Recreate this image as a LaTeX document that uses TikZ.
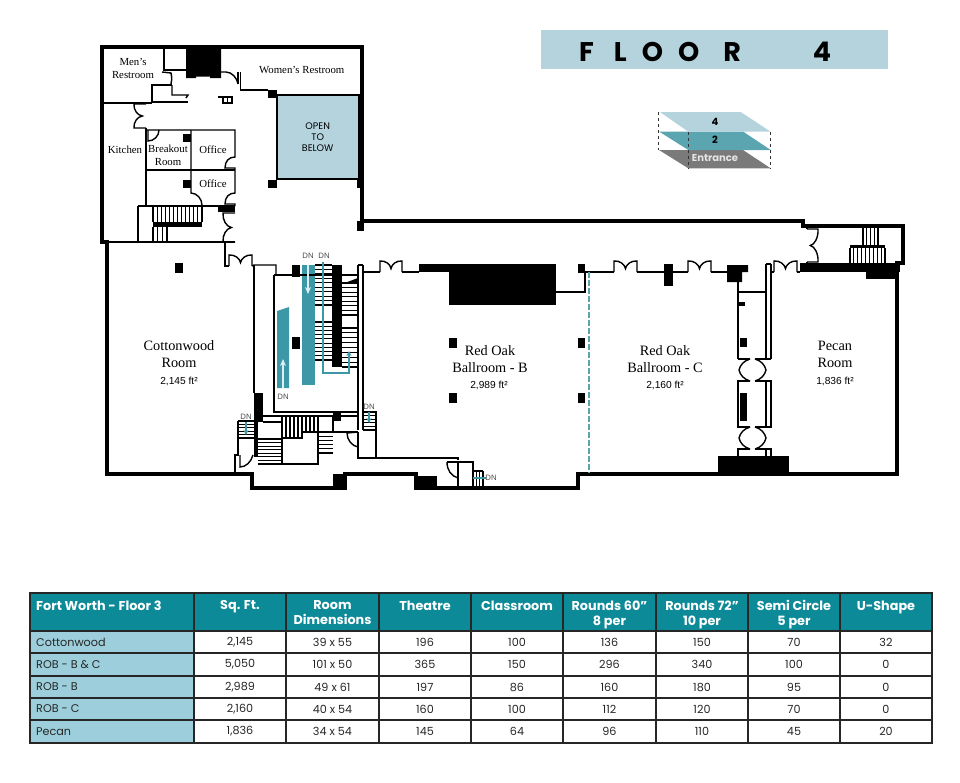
\documentclass[tikz,border=0pt]{standalone}
\usepackage{fontspec}
\usetikzlibrary{arrows.meta}
\setmainfont{Liberation Serif}
\newfontfamily\arialf{Liberation Sans}
\newfontfamily\futf{Poppins}
\definecolor{skyband}{HTML}{B5D3DD}
\definecolor{tealhead}{HTML}{0D8A98}
\definecolor{tealcol}{HTML}{9CCFDB}
\definecolor{tealmid}{HTML}{5BA5B1}
\definecolor{stairteal}{HTML}{3C98A6}
\definecolor{entgrey}{HTML}{7A7A7A}
\definecolor{arrowwhite}{HTML}{DCEFF2}
\newcommand\htreads[5]{\foreach \t in {0,...,#5}{\pgfmathsetmacro\yy{#3+(#4-#3)*\t/#5}\draw[tread] (#1,\yy)--(#2,\yy);}}
\newcommand\vtreads[5]{\foreach \t in {0,...,#5}{\pgfmathsetmacro\xx{#1+(#2-#1)*\t/#5}\draw[tread] (\xx,#3)--(\xx,#4);}}
\tikzset{
  wl/.style={line width=1.4pt,line cap=square,line join=miter},
  thick wall/.style={line width=3.6pt,line join=miter},
  tread/.style={line width=1.1pt},
  solid black/.style={fill=black,draw=none},
  room/.style={font=\fontsize{14.3}{17}\selectfont,align=center,inner sep=0pt},
  small room/.style={font=\fontsize{10.8}{12.5}\selectfont,align=center,inner sep=0pt},
  area/.style={font=\arialf\fontsize{10.2}{11}\selectfont,inner sep=0pt},
  dn/.style={font=\arialf\fontsize{7.8}{8}\selectfont,text=black!70,inner sep=0pt},
  cell/.style={font=\futf\fontsize{11.2}{14}\selectfont,text=black!85,inner sep=0pt},
  firstcell/.style={cell,anchor=west},
  head/.style={font=\futf\bfseries\fontsize{12.8}{15}\selectfont,text=white,inner sep=0pt,align=center,anchor=north},
  stacklabel/.style={font=\futf\bfseries\fontsize{10}{11}\selectfont,inner sep=0pt},
  tealline/.style={draw=stairteal,line width=1.2pt},
  whitearrow/.style={draw=arrowwhite,line width=1.5pt,-{Stealth[length=7pt,width=6pt]}},
  tealarrow/.style={draw=stairteal,line width=1.2pt,-{Stealth[length=5pt,width=5pt]}},
  ddoor/.pic={\draw[wl] (-1,0)--(-1,-1) .. controls (-.5,-1.05) and (-.05,-.7) .. (0,-.3) .. controls (.05,-.7) and (.5,-1.05) .. (1,-1)--(1,0);},
  ddoorb/.pic={\draw[wl] (-1,0) .. controls (-.85,-.55) and (-.45,-.9) .. (0,-1) .. controls (.45,-.9) and (.85,-.55) .. (1,0);}
}
\begin{document}
\begin{tikzpicture}[x=1pt,y=-1pt]
\useasboundingbox (0,0) rectangle (960,782);
% title band
\fill[skyband] (541,30) rectangle (888,69);
\node[inner sep=0pt,anchor=west,font=\futf\bfseries\fontsize{27}{30}\selectfont] (title) at (579,52) {\spaceskip=15pt F\hspace{5pt} L O O\hspace{9pt} R\hspace{72pt}4};
% level stack
\fill[entgrey] (659,150)--(743,150)--(770.7,168.3)--(688.3,168.3)--cycle;
\fill[tealmid] (659,131.5)--(743,131.5)--(770.7,150)--(688.3,150)--cycle;
\fill[skyband] (660,112)--(740.7,112)--(770.7,131.7)--(688.3,131.7)--cycle;
\draw[dashed,line width=.7pt,black!80] (658.7,112)--(658.7,149.5);
\draw[dashed,line width=.7pt,black!80] (688.3,132)--(688.3,168.3);
\draw[dashed,line width=.7pt,black!80] (770.7,132)--(770.7,168.3);
\node[stacklabel] (lvlf) at (715,122) {4};
\node[stacklabel] (lvls) at (715,140) {2};
\node[stacklabel,text=white!90!black] (lvle) at (715,158) {Entrance};
% open to below
\draw[wl,fill=skyband] (277,95) rectangle (359,179);
% teal stair strips
\fill[stairteal] (302,265) rectangle (315,385);
\fill[stairteal] (277,311)--(289,307)--(289,388)--(277,388)--cycle;
% blacks
\fill[solid black] (186,49)--(221,49)--(221,78)--(210,78)--(210,76.5)--(196,76.5)--(196,78)--(186,78)--cycle;
\fill[solid black] (268,90) rectangle (277,98);
\fill[solid black] (268,180) rectangle (277,188);
\fill[solid black] (357,179) rectangle (361,188);
\fill[solid black] (357,221) rectangle (364,231);
\fill[solid black] (183,134) rectangle (191,142);
\fill[solid black] (183,180) rectangle (191,188);
\fill[solid black] (218,206) rectangle (235,212);
\fill[solid black] (153,222) rectangle (202,227);
\fill[solid black] (175,263) rectangle (183,273);
\fill[solid black] (292,265) rectangle (300,277);
\fill[solid black] (292,337) rectangle (300,349);
\fill[solid black] (332,265) rectangle (342,367);
\fill[solid black] (342,284)--(358,278)--(358,283)--cycle;
\fill[solid black] (254,393) rectangle (263,422);
\fill[solid black] (254,422) rectangle (258,457);
\fill[solid black] (333,412) rectangle (341,421);
\fill[solid black] (333,474) rectangle (345,490);
\fill[solid black] (416,476) rectangle (437,489);
\fill[solid black] (419,264) rectangle (449,272);
\fill[solid black] (449,264) rectangle (556,305);
\fill[solid black] (578,264) rectangle (585,273);
\fill[solid black] (664,264) rectangle (673,286);
\fill[solid black] (727,265)--(748,265)--(748,272)--(742,272)--(742,282)--(727,282)--cycle;
\fill[solid black] (738,302) rectangle (745,306);
\fill[solid black] (740,338) rectangle (747,347);
\fill[solid black] (740,393) rectangle (747,421);
\fill[solid black] (718,456) rectangle (789,473);
\fill[solid black] (800,263) rectangle (900,272);
\fill[solid black] (866,272) rectangle (897,279);
\fill[solid black] (850,245) rectangle (885,248);
\fill[solid black] (449,338) rectangle (457,348);
\fill[solid black] (578,338) rectangle (585,348);
\fill[solid black] (449,393) rectangle (457,403);
\fill[solid black] (578,393) rectangle (585,403);
% outer walls
\draw[thick wall] (102,242)--(102,47)--(362,47)--(362,221)--(803,221)--(803,226)--(903,226)--(903,263)--(897,263)--(897,474)--(578,474)--(578,488)--(437,488)--(416,488)--(416,474)--(345,474)--(345,488)--(252,488)--(252,474)--(107,474)--(107,242)--cycle;
% upper-left thin walls
\draw[wl] (102,103)--(152,103);
\draw[wl] (164,49)--(164,70)--(186,70);
\draw[wl] (162,72)--(171,73) .. controls (172,78) and (172,81) .. (171,84);
\draw[wl] (172,85)--(152,85)--(152,102);
\draw[wl] (172,85)--(172,95)--(188,95)--(186,98);
\draw[wl] (152,102)--(188,102);
\draw[wl] (221,72)--(226,72) .. controls (232,72) and (237,78) .. (238,84);
\draw[wl] (238,72)--(238,84);
\draw[wl] (240.7,72)--(240.7,90)--(268,90);
\draw[wl] (218,97)--(232,97);
\draw[wl] (223,97) rectangle (232,103);
\draw[wl] (227.5,97)--(227.5,103);
\pic[shift={(146,116)},rotate=90,xscale=12,yscale=12]{ddoor};
\draw[wl] (146,128)--(146,206);
\draw[wl] (146,130)--(235,130)--(235,157) .. controls (229,157) and (225,161) .. (225,168)--(235,168)--(235,193) .. controls (229,193) and (225,197) .. (225,204)--(235,204)--(235,206);
\draw[wl] (148,130)--(148,141) .. controls (154,141) and (159,136) .. (159,130);
\draw[wl] (191,130)--(191,193) .. controls (197,193) and (202,199) .. (202,205);
\draw[wl] (146,170)--(235,170);
\draw[wl] (138,206)--(235,206);
\draw[wl] (138,206)--(138,243);
\draw[wl] (102,242)--(235,242);
\pic[shift={(235,227.5)},rotate=90,xscale=14.5,yscale=12]{ddoor};
\vtreads{153}{202}{207}{222}{12}
\vtreads{153}{167}{227}{242}{3}
% corridor to ballrooms
\draw[wl] (225,243)--(225,266)--(229,266);
\pic[shift={(240.5,266)},xscale=11.5,yscale=11]{ddoor};
\draw[wl] (252,266)--(254,265)--(276,265)--(276,275);
\draw[wl] (254,265)--(254,393);
\draw[wl] (274,275)--(358,275);
\draw[wl] (274,275)--(274,412)--(358,412);
\draw[wl] (358,265)--(363,265);
\draw[wl] (358,265)--(358,430);
\draw[wl] (363,265)--(363,430);
\draw[wl] (363,272)--(380,272);
\pic[shift={(391,272)},xscale=11,yscale=11]{ddoor};
\draw[wl] (402,272)--(419,272);
% central stairs
\htreads{315}{332}{265}{305}{9}
\htreads{315}{332}{322}{360}{9}
\htreads{342}{358}{283}{315}{7}
\htreads{342}{358}{328}{367}{8}
\draw[tealline] (323,262)--(323,373)--(349,373)--(349,360);
\draw[tealarrow] (349,362)--(349,351);
\draw[whitearrow] (308,265)--(308,294);
\draw[whitearrow] (283,388)--(283,359);
\node[dn] (dna) at (308,256) {DN};
\node[dn] (dnb) at (324,256) {DN};
\node[dn] (dnc) at (283,397) {DN};
% lower stair block
\draw[wl] (263,416)--(358,416);
\draw[wl] (263,422)--(282,422);
\vtreads{282}{318}{417}{438}{9}
\draw[wl,fill=white] (282,438)--(302,438)--(302,432)--(318,432)--(318,464)--(282,464)--cycle;
\htreads{258}{282}{439}{464}{7}
\draw[wl] (258,464)--(282,464);
\htreads{318}{333}{432}{453}{5}
\draw[wl] (333,416)--(333,432)--(318,432);
\draw[wl] (333,432)--(358,432);
\draw[wl] (358,432)--(358,458)--(458,458)--(458,460);
\draw[wl] (358,432)--(347,433) .. controls (347,440) and (352,446) .. (358,447);
% left small stair
\htreads{238}{254}{421}{438}{5}
\draw[wl] (238,421)--(238,455)--(235,455)--(235,473);
\draw[wl] (240,455)--(240,467) .. controls (246,467) and (251,462) .. (253,455);
\draw[tealarrow] (246,422)--(246,435);
\node[dn] (dnd) at (246,417) {DN};
% right small stair
\draw[wl] (363,412)--(376,412)--(376,458);
\htreads{363}{376}{412}{430}{5}
\draw[tealarrow] (369,412)--(369,423);
\node[dn] (dne) at (369,407) {DN};
% bottom small rooms
\draw[wl] (447,462)--(473,462)--(473,487);
\draw[wl] (458,462)--(458,487);
\draw[wl] (447,462) .. controls (447,470) and (451,476) .. (458,478);
\vtreads{473}{483}{471}{487}{3}
\draw[tread] (473,471)--(483,471);
\draw[tealline] (473,478)--(486,478);
\node[dn] (dnf) at (491,478) {DN};
% ballroom top wall
\draw[wl] (556,292)--(585,292)--(585,272)--(614,272);
\pic[shift={(625.5,272)},xscale=11.5,yscale=11]{ddoor};
\draw[wl] (637,272)--(664,272);
\draw[wl] (673,272)--(688,272);
\pic[shift={(699.5,272)},xscale=11.5,yscale=11]{ddoor};
\draw[wl] (711,272)--(727,272);
\draw[dashed,dash pattern=on 6pt off 2pt,tealmid,line width=1.2pt] (589,272)--(589,473);
% service corridor right
\draw[wl] (738,282)--(738,359);
\draw[wl] (738,292)--(766,292);
\draw[wl] (766,264)--(771,264);
\draw[wl] (766,264)--(766,359);
\draw[wl] (771,264)--(771,359);
\draw[wl] (738,359)--(750,359);
\draw[wl] (755,359)--(771,359);
\pic[shift={(750,370)},rotate=90,xscale=11,yscale=11]{ddoorb};
\pic[shift={(755,370)},rotate=-90,xscale=11,yscale=11]{ddoorb};
\draw[wl] (750,381)--(738,381)--(738,427)--(750,427);
\draw[wl] (755,381)--(771,381)--(771,427)--(755,427);
\draw[wl] (766,381)--(766,427);
\pic[shift={(750,438)},rotate=90,xscale=11,yscale=11]{ddoorb};
\pic[shift={(755,438)},rotate=-90,xscale=11,yscale=11]{ddoorb};
\draw[wl] (750,449)--(738,449)--(738,456);
\draw[wl] (755,449)--(771,449)--(771,456);
\draw[wl] (766,449)--(766,456);
\draw[wl] (771,272)--(774,272);
\pic[shift={(785.5,272)},xscale=11.5,yscale=11]{ddoor};
\draw[wl] (797,272)--(800,272);
% NE door and stair
\pic[shift={(807,245.5)},rotate=-90,xscale=16.5,yscale=11]{ddoor};
\draw[wl] (807,226)--(807,229);
\draw[wl] (807,262)--(807,263);
\vtreads{850}{885}{248}{263}{9}
\vtreads{863}{878}{228}{245}{4}
% room labels
\node[small room] (mens) at (133,68.5) {Men's\\Restroom};
\node[small room] (womens) at (301.7,70) {Women's Restroom};
\node[inner sep=0pt,align=center,font=\futf\fontsize{9.5}{11}\selectfont] (open) at (317.7,137) {OPEN\\TO\\BELOW};
\node[small room] (kitchen) at (125,150) {Kitchen};
\node[small room] (breakout) at (168,155.5) {Breakout\\Room};
\node[small room] (officea) at (213,150) {Office};
\node[small room] (officeb) at (213,184) {Office};
\node[room] (cotton) at (179,354.5) {Cottonwood\\Room};
\node[area] (cottona) at (179,381) {2,145 ft²};
\node[room] (oakb) at (490,359.5) {Red Oak\\Ballroom - B};
\node[area] (oakba) at (489,385) {2,989 ft²};
\node[room] (oakc) at (665,359.5) {Red Oak\\Ballroom - C};
\node[area] (oakca) at (665,385) {2,160 ft²};
\node[room] (pecan) at (835,354.5) {Pecan\\Room};
\node[area] (pecana) at (835,381) {1,836 ft²};
% table
\fill[tealhead] (30,593) rectangle (932,631);
\fill[tealcol] (30,631) rectangle (194,743);
\foreach \yl in {631,653,676,698,720}{\draw[line width=1.3pt,black!85] (30,\yl)--(932,\yl);}
\foreach \xl in {194,286,379,471,563,656,748,840}{\draw[line width=1.3pt,black!85] (\xl,593)--(\xl,743);}
\draw[line width=1.6pt,black!85] (30,593) rectangle (932,743);
\node[head,anchor=north west] (hfirst) at (36,600.5) {Fort Worth - Floor 3};
\node[head] (ha) at (240,600.5) {Sq. Ft.};
\node[head] (hb) at (332.5,600.5) {Room\\Dimensions};
\node[head] (hc) at (425,600.5) {Theatre};
\node[head] (hd) at (517,600.5) {Classroom};
\node[head] (he) at (609.5,600.5) {Rounds 60”\\8 per};
\node[head] (hf) at (702,600.5) {Rounds 72”\\10 per};
\node[head] (hg) at (794,600.5) {Semi Circle\\5 per};
\node[head] (hh) at (886,600.5) {U-Shape};
\foreach \yy/\nm/\a/\b/\c/\d/\e/\f/\g/\h [count=\i] in {
 642/Cottonwood/{2,145}/39 x 55/196/100/136/150/70/32,
 664.5/ROB - B \& C/{5,050}/101 x 50/365/150/296/340/100/0,
 687/ROB - B/{2,989}/49 x 61/197/86/160/180/95/0,
 709/ROB - C/{2,160}/40 x 54/160/100/112/120/70/0,
 731.5/Pecan/{1,836}/34 x 54/145/64/96/110/45/20}{
 \node[firstcell] (r\i-0) at (36,\yy) {\nm};
 \node[cell] (r\i-1) at (240,\yy) {\a};
 \node[cell] (r\i-2) at (332.5,\yy) {\b};
 \node[cell] (r\i-3) at (425,\yy) {\c};
 \node[cell] (r\i-4) at (517,\yy) {\d};
 \node[cell] (r\i-5) at (609.5,\yy) {\e};
 \node[cell] (r\i-6) at (702,\yy) {\f};
 \node[cell] (r\i-7) at (794,\yy) {\g};
 \node[cell] (r\i-8) at (886,\yy) {\h};
}
\end{tikzpicture}
\end{document}
